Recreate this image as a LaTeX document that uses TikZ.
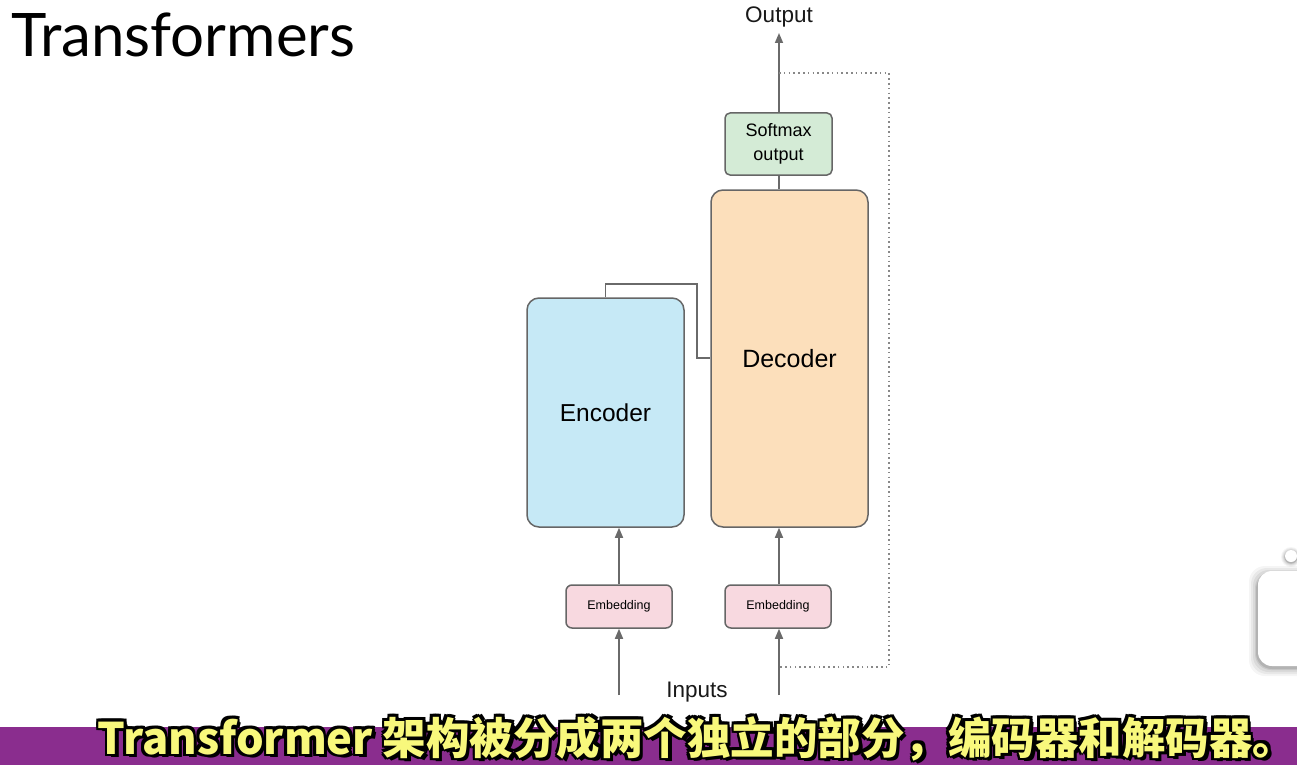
\documentclass[tikz,border=0pt]{standalone}
\usepackage{fontspec}
\setmainfont{Liberation Sans}
\newfontfamily\titlefont{Lato}
\newfontfamily\cjk{Noto Sans CJK SC}
\usetikzlibrary{arrows.meta}
\definecolor{bordergray}{HTML}{666666}
\definecolor{linegray}{HTML}{6A6A6A}
\definecolor{encfill}{HTML}{C6E9F6}
\definecolor{decfill}{HTML}{FCDFBB}
\definecolor{softfill}{HTML}{D4EBD6}
\definecolor{embfill}{HTML}{F8D9E0}
\definecolor{bandpurple}{HTML}{8A2D8E}
\definecolor{subyellow}{HTML}{F8F87C}
\tikzset{
  blockbox/.style={draw=bordergray, line width=1.5pt, inner sep=0pt, align=center},
  encbox/.style={blockbox, fill=encfill, rounded corners=12pt, minimum width=157pt, minimum height=229pt, font=\fontsize{24.5}{28}\selectfont},
  decbox/.style={blockbox, fill=decfill, rounded corners=12pt, minimum width=157pt, minimum height=337pt, font=\fontsize{25}{28}\selectfont},
  softbox/.style={blockbox, fill=softfill, rounded corners=5pt, minimum width=107pt, minimum height=62pt, font=\fontsize{18}{24}\selectfont},
  embbox/.style={blockbox, fill=embfill, rounded corners=6pt, minimum width=106pt, minimum height=43pt, font=\fontsize{12.5}{14}\selectfont},
  conn/.style={draw=linegray, line width=1.6pt},
  arr/.style={conn, -{Triangle[length=10pt,width=8pt]}},
  fback/.style={draw=linegray!80, line width=1.6pt, dash pattern=on 1.6pt off 3.2pt},
  lbl/.style={inner sep=0pt, font=\fontsize{22.5}{26}\selectfont, text=black!90},
  subt/.style={inner sep=0pt, anchor=base, font=\cjk\bfseries\fontsize{43.5}{46}\selectfont}
}
\begin{document}
\begin{tikzpicture}[x=1pt, y=-1pt]
\useasboundingbox (0,0) rectangle (1297,765);
\fill[white] (0,0) rectangle (1297,765);
% title
\node[anchor=base west, inner sep=0pt, font=\titlefont\fontsize{60}{62}\selectfont] (title) at (11,57) {Transformers};
% blocks
\node[encbox] (enc) at (605.5,412.5) {Encoder};
\node[decbox] (dec) at (789.5,358.5) {Decoder};
\node[softbox] (soft) at (778.5,144) {Softmax\\output};
\node[embbox] (embL) at (619,606.5) {Embedding};
\node[embbox] (embR) at (778,606.5) {Embedding};
\node[lbl, anchor=base] (out) at (779,23) {Output};
\node[lbl, anchor=base] (inp) at (697,697) {Inputs};
% coordinates
\coordinate (inL) at (619,695);
\coordinate (inR) at (779,695);
\coordinate (outTip) at (779,33);
\coordinate (k) at (697,358);
\coordinate (fbA) at (779,73);
\coordinate (fbB) at (779,667);
\coordinate (fbC) at (889,667);
% connectors
\draw[arr] (inL) -- (embL.south);
\draw[arr] (inR) -- (inR |- embR.south);
\draw[arr] (embL.north) -- (embL.north |- enc.south);
\draw[arr] (inR |- embR.north) -- (inR |- dec.south);
\draw[conn] (soft.south -| outTip) -- (outTip |- dec.north);
\draw[arr] (soft.north -| outTip) -- (outTip);
\draw[conn] (enc.north) -- ++(0,-13) -| (k) -- (k -| dec.west);
\draw[fback] (fbA) -| (fbC) -- (fbB);
% right-edge overlay shape with soft shadow
\foreach \s/\o in {8/0.04,6/0.05,4/0.06,2/0.08,1/0.10} {
  \fill[black, opacity=\o, rounded corners=16pt] (1257-\s,571-\s+3) rectangle (1320,668+\s);
  \fill[black, opacity=\o] (1291,557) circle (6pt+0.5*\s pt);
}
\fill[white] (1291,556) circle (6pt);
\fill[white, rounded corners=14pt] (1258,571) rectangle (1320,666);
% subtitle band
\fill[bandpurple] (0,727) rectangle (1297,765);
\foreach \dx/\dy in {-2.5/-2.5,-2.5/0,-2.5/2.5,0/-2.5,0/2.5,2.5/-2.5,2.5/0,2.5/2.5,3.5/3.5} {
  \node[subt, text=black] at (697+\dx,754+\dy) {Transformer 架构被分成两个独立的部分，编码器和解码器。};
}
\node[subt, text=subyellow] (sub) at (697,754) {Transformer 架构被分成两个独立的部分，编码器和解码器。};
\end{tikzpicture}
\end{document}
